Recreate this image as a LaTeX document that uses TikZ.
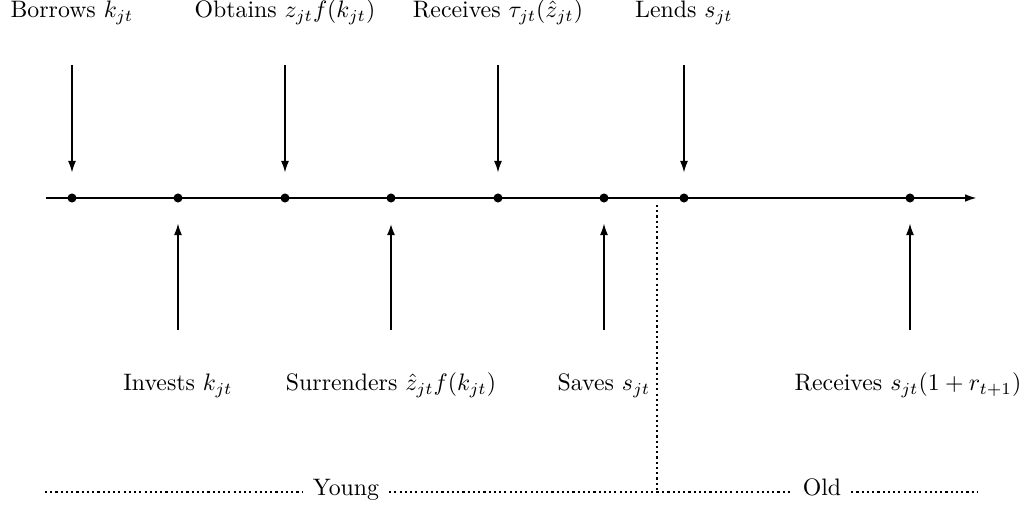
\documentclass[tikz,border=0pt]{standalone}
\usetikzlibrary{arrows.meta}
\begin{document}
\begin{tikzpicture}[x=0.42pt,y=-0.42pt,
  ev/.style={line width=0.8pt,-{Latex[length=5pt,width=3.4pt]},shorten >=8.5pt},
  axisline/.style={line width=0.8pt,-{Latex[length=5pt,width=3.2pt]}},
  dotpt/.style={circle,fill,inner sep=0pt,minimum size=3.8pt},
  lab/.style={anchor=base,inner sep=0pt},
  dotline/.style={line width=0.9pt,dash pattern=on 0.9pt off 1.3pt}]
\useasboundingbox (0,0) rectangle (1034,507);
% axis
\coordinate (ax0) at (46,198);
\coordinate (ax1) at (977,198);
\draw[axisline] (ax0) -- (ax1);
% event points
\node[dotpt] (d1) at (72,198) {};
\node[dotpt] (d2) at (178,198) {};
\node[dotpt] (d3) at (285,198) {};
\node[dotpt] (d4) at (391,198) {};
\node[dotpt] (d5) at (498,198) {};
\node[dotpt] (d6) at (604,198) {};
\node[dotpt] (d7) at (684,198) {};
\node[dotpt] (d8) at (910,198) {};
% top labels
\node[lab] (t1) at (72,18) {Borrows $k_{jt}$};
\node[lab] (t3) at (285,18) {Obtains $z_{jt}f(k_{jt})$};
\node[lab] (t5) at (498,18) {Receives $\tau_{jt}(\hat{z}_{jt})$};
\node[lab] (t7) at (684,18) {Lends $s_{jt}$};
\coordinate (s1) at (72,65);
\coordinate (s3) at (285,65);
\coordinate (s5) at (498,65);
\coordinate (s7) at (684,65);
\draw[ev] (s1) -- (d1);
\draw[ev] (s3) -- (d3);
\draw[ev] (s5) -- (d5);
\draw[ev] (s7) -- (d7);
% bottom labels
\node[lab] (b2) at (178,391) {Invests $k_{jt}$};
\node[lab] (b4) at (391,391) {Surrenders $\hat{z}_{jt}f(k_{jt})$};
\node[lab] (b6) at (604,391) {Saves $s_{jt}$};
\node[lab] (b8) at (908,391) {Receives $s_{jt}(1+r_{t+1})$};
\coordinate (s2) at (178,330);
\coordinate (s4) at (391,330);
\coordinate (s6) at (604,330);
\coordinate (s8) at (910,330);
\draw[ev] (s2) -- (d2);
\draw[ev,line width=1.1pt] (s4) -- (d4);
\draw[ev] (s6) -- (d6);
\draw[ev] (s8) -- (d8);
% young / old
\coordinate (v0) at (657,205);
\coordinate (v1) at (657,492);
\coordinate (l0) at (45,492);
\coordinate (r0) at (977,492);
\draw[dotline] (v0) -- (v1);
\node[anchor=base,inner sep=0pt] (young) at (346,496) {Young};
\node[anchor=base,inner sep=0pt] (old) at (822,496) {Old};
\draw[dotline] (l0) -- ([xshift=-4pt]young.west |- l0);
\draw[dotline] ([xshift=4pt]young.east |- l0) -- (v1);
\draw[dotline] (v1) -- ([xshift=-4pt]old.west |- v1);
\draw[dotline] ([xshift=4pt]old.east |- r0) -- (r0);
\end{tikzpicture}
\end{document}
